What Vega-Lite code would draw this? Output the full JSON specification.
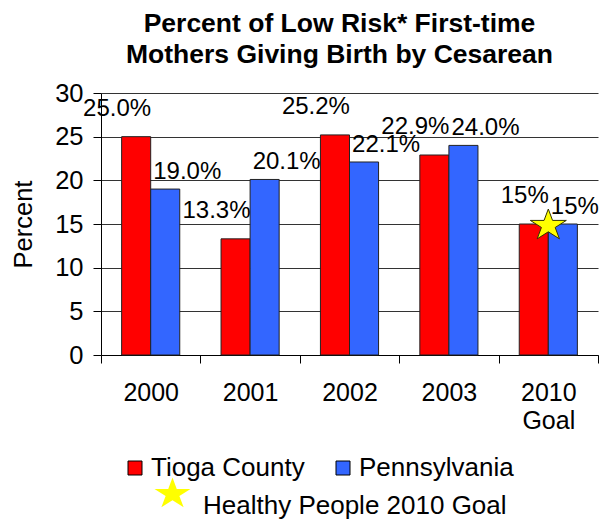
{
  "$schema": "https://vega.github.io/schema/vega-lite/v6.json",
  "autosize": "none",
  "width": 497,
  "height": 262,
  "padding": {"left": 101, "top": 93, "right": 7, "bottom": 165},
  "background": "white",
  "config": {"font": "Liberation Sans", "view": {"stroke": null}},
  "title": {
    "text": ["Percent of Low Risk* First-time", "Mothers Giving Birth by Cesarean"],
    "fontSize": 26.5,
    "fontWeight": "bold",
    "font": "Liberation Sans",
    "lineHeight": 31,
    "anchor": "middle",
    "frame": "group",
    "dx": -10,
    "offset": 13,
    "color": "#000000"
  },
  "datasets": {
    "bars": [
      {"year": "2000", "series": "Tioga County", "value": 25.0, "label": "25.0%"},
      {"year": "2001", "series": "Tioga County", "value": 13.3, "label": "13.3%"},
      {"year": "2002", "series": "Tioga County", "value": 25.2, "label": "25.2%"},
      {"year": "2003", "series": "Tioga County", "value": 22.9, "label": "22.9%"},
      {"year": "2010 Goal", "series": "Tioga County", "value": 15, "label": "15%"},
      {"year": "2000", "series": "Pennsylvania", "value": 19.0, "label": "19.0%"},
      {"year": "2001", "series": "Pennsylvania", "value": 20.1, "label": "20.1%"},
      {"year": "2002", "series": "Pennsylvania", "value": 22.1, "label": "22.1%"},
      {"year": "2003", "series": "Pennsylvania", "value": 24.0, "label": "24.0%"},
      {"year": "2010 Goal", "series": "Pennsylvania", "value": 15, "label": "15%"}
    ],
    "goal": [
      {"year": "2010 Goal", "value": 15, "marker": "Healthy People 2010 Goal"}
    ]
  },
  "layer": [
    {
      "data": {"name": "bars"},
      "mark": {"type": "bar", "stroke": "#222222", "strokeWidth": 1},
      "encoding": {
        "x": {
          "field": "year",
          "type": "nominal",
          "scale": {"domain": ["2000", "2001", "2002", "2003", "2010 Goal"], "paddingInner": 0, "paddingOuter": 0},
          "axis": {
            "title": null,
            "labelAngle": 0,
            "labelFontSize": 25,
            "labelColor": "#000000",
            "tickBand": "extent",
            "tickSize": 8,
            "tickColor": "#000000",
            "domainColor": "#000000",
            "labelPadding": 17,
            "labelLineHeight": 28,
            "labelExpr": "datum.value == '2010 Goal' ? ['2010', 'Goal'] : datum.value",
            "grid": false
          }
        },
        "xOffset": {
          "field": "series",
          "type": "nominal",
          "scale": {"domain": ["Tioga County", "Pennsylvania"], "paddingOuter": 0.71, "paddingInner": 0}
        },
        "y": {
          "field": "value",
          "type": "quantitative",
          "scale": {"domain": [0, 30], "nice": false},
          "axis": {
            "title": "Percent",
            "titleFontSize": 25.5,
            "titleFontWeight": "normal",
            "titleColor": "#000000",
            "titlePadding": 18,
            "values": [0, 5, 10, 15, 20, 25, 30],
            "labelFontSize": 25.5,
            "labelColor": "#000000",
            "labelPadding": 10,
            "tickSize": 8,
            "tickColor": "#000000",
            "domainColor": "#000000",
            "grid": true,
            "gridColor": "#333333",
            "gridOpacity": 1
          }
        },
        "color": {
          "field": "series",
          "type": "nominal",
          "scale": {"domain": ["Tioga County", "Pennsylvania"], "range": ["#FF0000", "#3366FF"]},
          "legend": {
            "orient": "none",
            "legendX": 21,
            "legendY": 362,
            "direction": "horizontal",
            "title": null,
            "symbolType": "square",
            "symbolSize": 196,
            "symbolStrokeColor": "#000000",
            "symbolStrokeWidth": 1,
            "symbolOpacity": 1,
            "labelFontSize": 26,
            "labelColor": "#000000",
            "labelOffset": 3,
            "labelLimit": 400,
            "columnPadding": 25
          }
        }
      }
    },
    {
      "data": {"name": "bars"},
      "transform": [{"filter": "datum.series == 'Tioga County'"}],
      "mark": {"type": "text", "align": "right", "baseline": "alphabetic", "dx": 15, "dy": -21, "fontSize": 24, "color": "#000000"},
      "encoding": {
        "x": {"field": "year", "type": "nominal"},
        "xOffset": {"field": "series", "type": "nominal"},
        "y": {"field": "value", "type": "quantitative"},
        "text": {"field": "label", "type": "nominal"}
      }
    },
    {
      "data": {"name": "bars"},
      "transform": [{"filter": "datum.series == 'Pennsylvania'"}],
      "mark": {"type": "text", "align": "left", "baseline": "alphabetic", "dx": -12, "dy": -10, "fontSize": 24, "color": "#000000"},
      "encoding": {
        "x": {"field": "year", "type": "nominal"},
        "xOffset": {"field": "series", "type": "nominal"},
        "y": {"field": "value", "type": "quantitative"},
        "text": {"field": "label", "type": "nominal"}
      }
    },
    {
      "data": {"name": "goal"},
      "mark": {"type": "point", "filled": true, "fill": "#FFFF00", "stroke": "#333300", "strokeWidth": 1, "size": 1435, "opacity": 1},
      "encoding": {
        "x": {"field": "year", "type": "nominal"},
        "y": {"field": "value", "type": "quantitative"},
        "shape": {
          "field": "marker",
          "type": "nominal",
          "scale": {"range": ["M0,-0.79L0.2245,-0.189L0.951,-0.189L0.363,0.183L0.588,0.784L0,0.412L-0.588,0.784L-0.363,0.183L-0.951,-0.189L-0.2245,-0.189Z"]},
          "legend": {
            "orient": "none",
            "legendX": 52,
            "legendY": 380,
            "title": null,
            "symbolSize": 1435,
            "symbolFillColor": "#FFFF00",
            "symbolStrokeColor": "#333300",
            "symbolStrokeWidth": 1,
            "symbolOpacity": 1,
            "labelFontSize": 26,
            "labelColor": "#000000",
            "labelOffset": 11,
            "labelLimit": 400,
            "labelBaseline": "top"
          }
        }
      }
    }
  ]
}
